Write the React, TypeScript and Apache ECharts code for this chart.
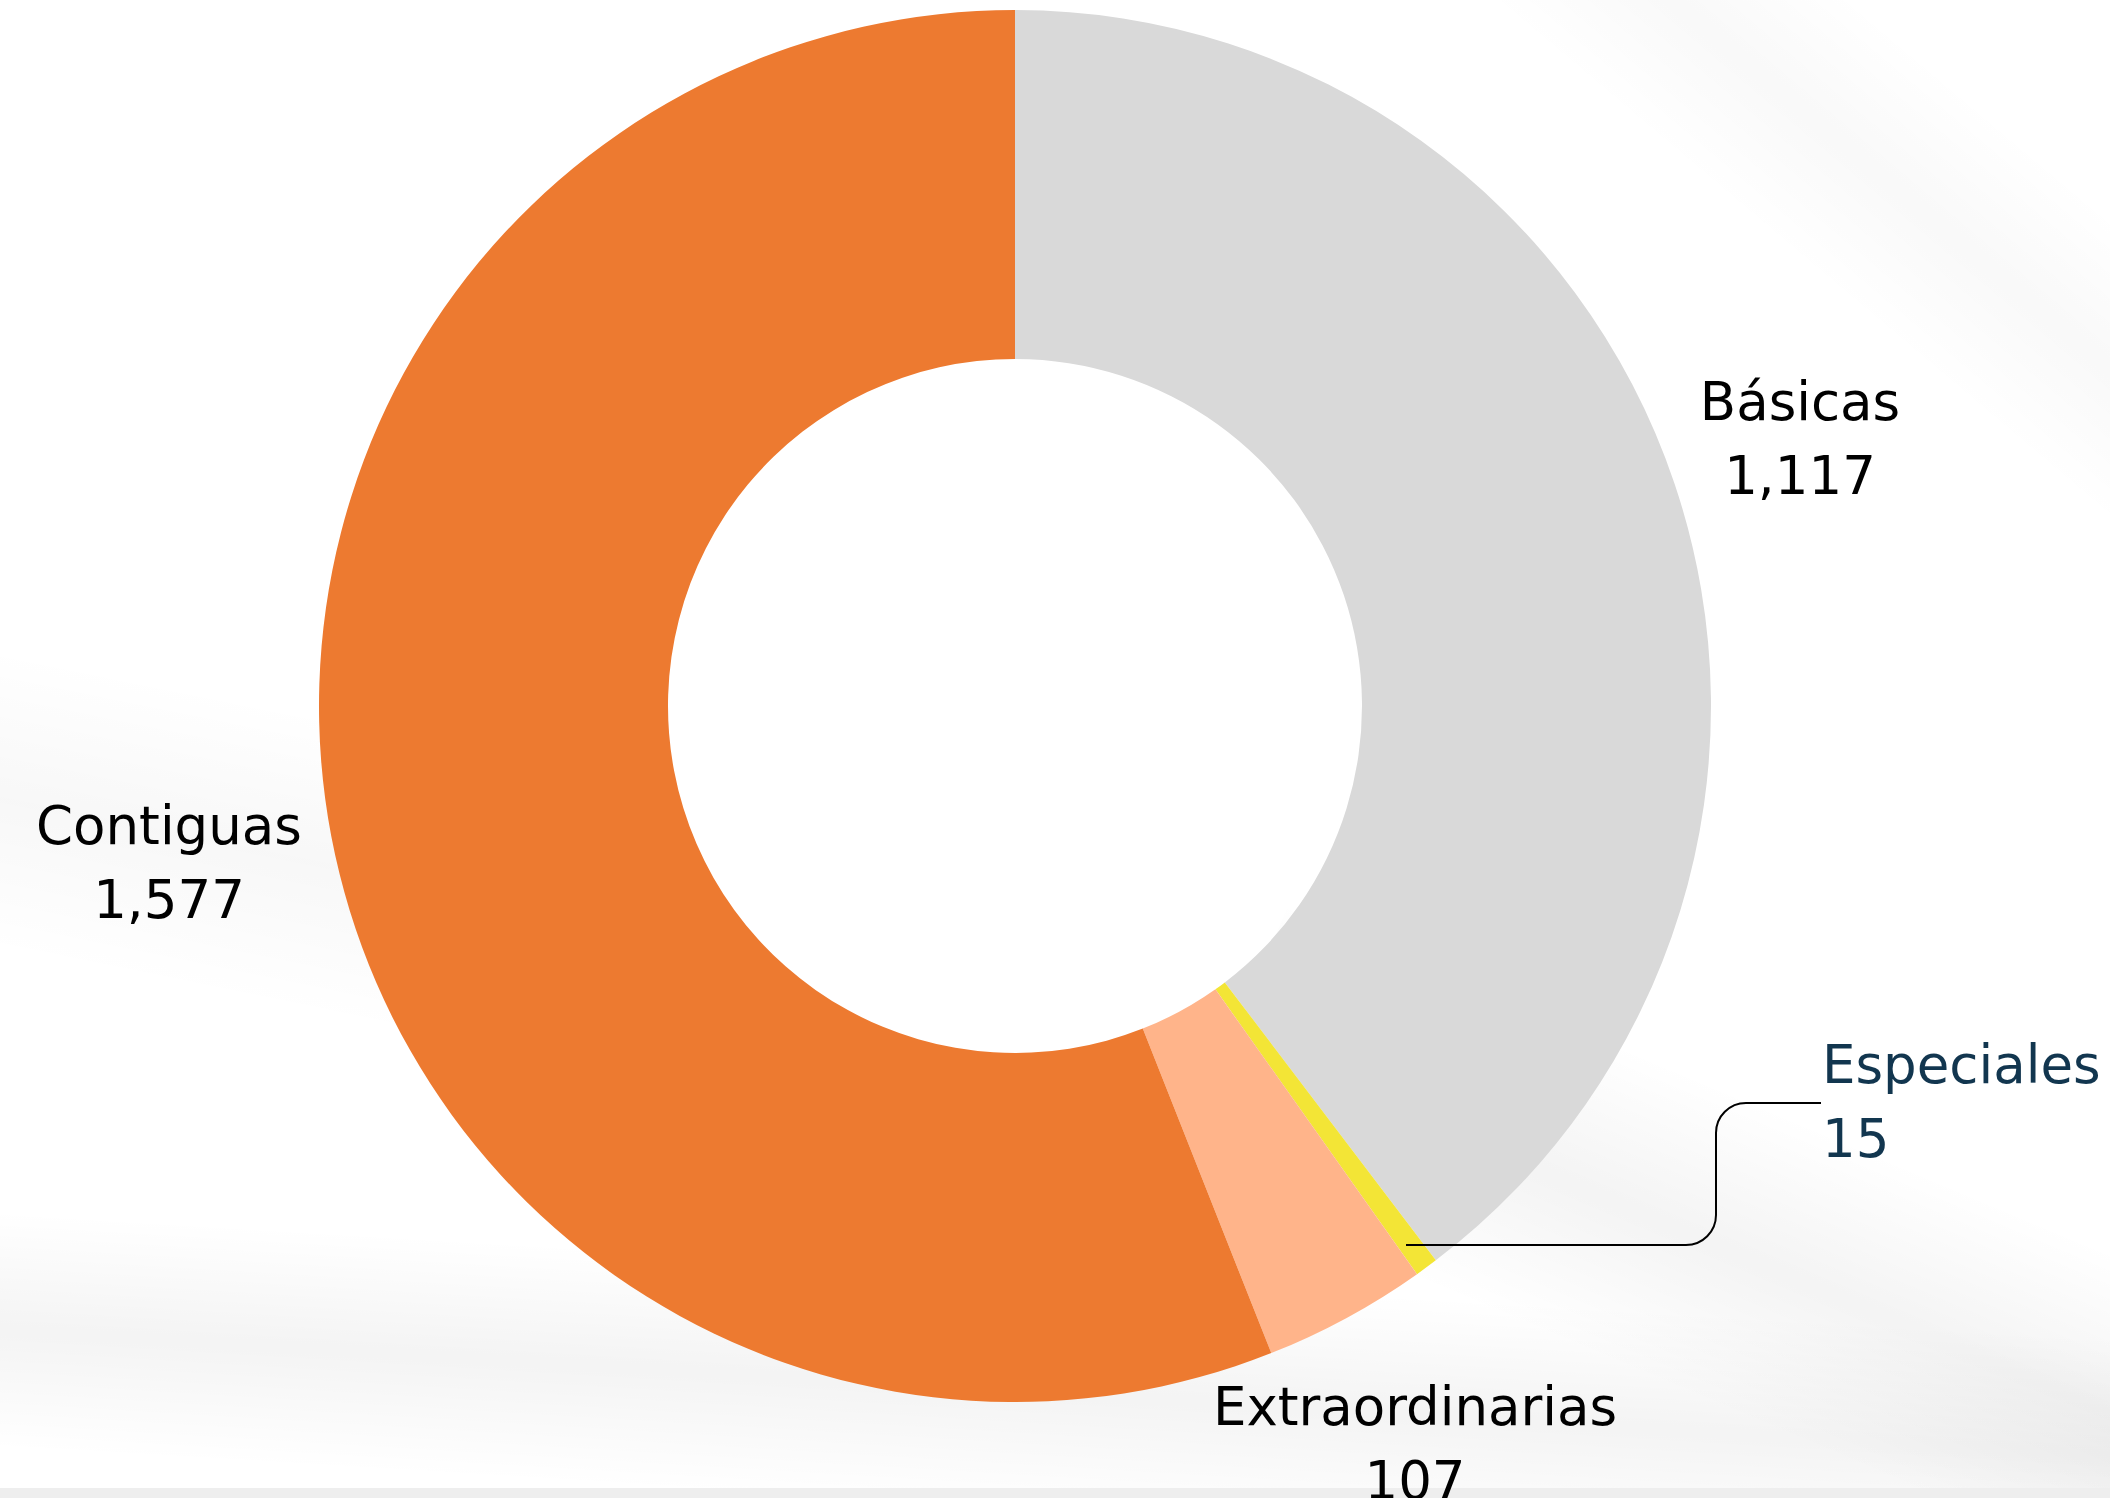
import React, { useEffect, useRef } from "react";
import * as echarts from "echarts";

const categories = ["Básicas", "Especiales", "Extraordinarias", "Contiguas"];
const values = [1117, 15, 107, 1577];
const sliceColors = ["#D9D9D9", "#F3E536", "#FFB48A", "#ED7A30"];
const labelColors = ["#000000", "#12364F", "#000000", "#000000"];
const labelPlacement = [
  { x: 1800, y: 438, align: "center" },
  { x: 1822, y: 1101, align: "left" },
  { x: 1415, y: 1443, align: "center" },
  { x: 169, y: 862, align: "center" },
];

const fmt = (v: number) => v.toLocaleString("en-US");

const leaderD =
  "M1406 1245 H1686 C1702.6 1245 1716 1231.6 1716 1215 V1133 C1716 1116.4 1729.4 1103 1746 1103 H1821";

let registered = false;

const band = (cx: number, cy: number, len: number, w: number, rot: number, a: number) => ({
  type: "rect",
  silent: true,
  z: -10,
  x: cx,
  y: cy,
  rotation: rot,
  shape: { x: -len / 2, y: -w / 2, width: len, height: w },
  style: {
    fill: new echarts.graphic.LinearGradient(0, 0, 0, 1, [
      { offset: 0, color: "rgba(0,0,0,0)" },
      { offset: 0.5, color: `rgba(0,0,0,${a})` },
      { offset: 1, color: "rgba(0,0,0,0)" },
    ]),
  },
});

export default function App() {
  const ref = useRef<HTMLDivElement>(null);
  useEffect(() => {
    document.body.style.margin = "0";
    if (!registered) {
      echarts.graphic.registerShape("leader", echarts.graphic.extendPath(leaderD, {}));
      registered = true;
    }
    const chart = echarts.init(ref.current!, null, { renderer: "svg" });
    const font = "DejaVu Sans";
    chart.setOption({
      animation: false,
      backgroundColor: "#ffffff",
      graphic: [
        band(1000, 1390, 3200, 240, -0.06, 0.045),
        band(2060, 1391, 1800, 300, -0.4, 0.045),
        band(1850, 150, 1400, 240, -0.7, 0.025),
        band(150, 830, 700, 300, -0.2, 0.03),
        {
          type: "rect",
          silent: true,
          z: -5,
          shape: { x: 0, y: 1488, width: 2110, height: 10 },
          style: { fill: "#EEEEEE" },
        },
        {
          type: "leader",
          silent: true,
          z: 10,
          x: 0,
          y: 0,
          style: { fill: null, stroke: "#000000", lineWidth: 2 },
        },
      ],
      series: [
        {
          type: "pie",
          center: [1015, 706],
          radius: [347, 696],
          startAngle: 90,
          clockwise: true,
          avoidLabelOverlap: false,
          silent: true,
          emphasis: { disabled: true },
          itemStyle: { borderWidth: 0 },
          labelLine: { show: false },
          label: {
            show: true,
            position: "outside",
            formatter: (p: any) => `{n|${p.name}}\n{v|${fmt(p.value)}}`,
          },
          labelLayout: (params: any) => {
            const p = labelPlacement[params.dataIndex];
            return { x: p.x, y: p.y, align: p.align, verticalAlign: "middle" };
          },
          data: categories.map((name, i) => ({
            name,
            value: values[i],
            itemStyle: { color: sliceColors[i] },
            label: {
              rich: {
                n: { fontFamily: font, fontSize: 53, lineHeight: 74, color: labelColors[i], align: labelPlacement[i].align },
                v: { fontFamily: font, fontSize: 53, lineHeight: 74, color: labelColors[i], align: labelPlacement[i].align },
              },
            },
          })),
        },
      ],
    });
    return () => chart.dispose();
  }, []);
  return <div ref={ref} style={{ width: 2110, height: 1498 }} />;
}
